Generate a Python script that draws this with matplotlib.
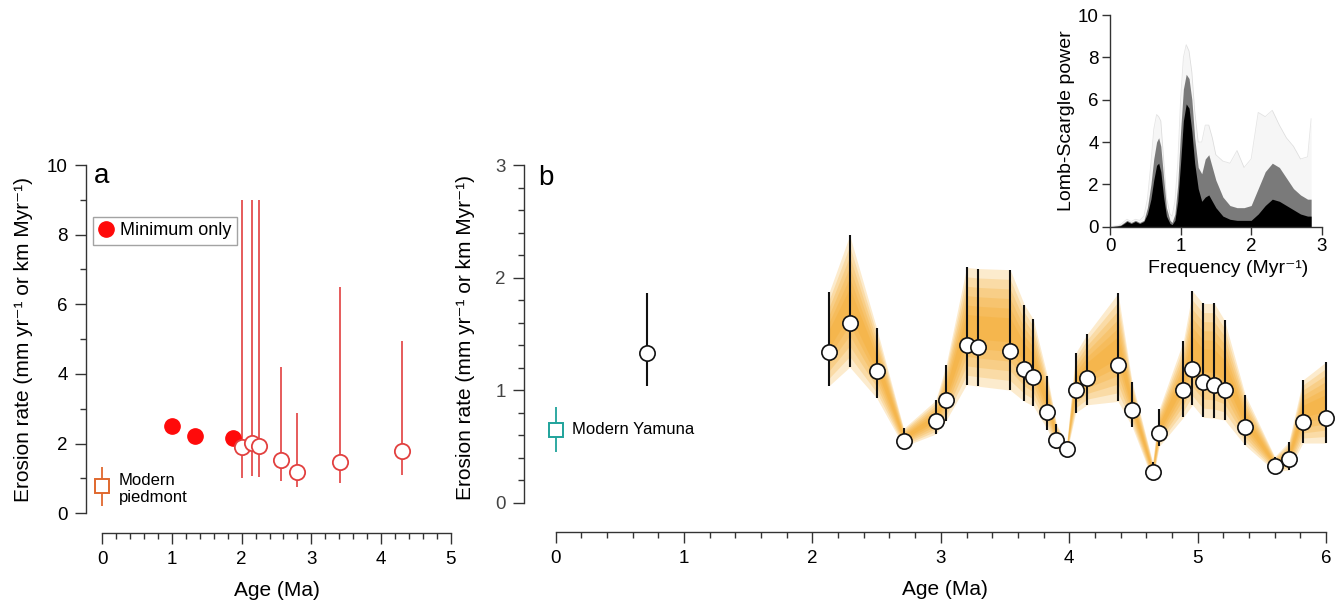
import matplotlib
matplotlib.use("Agg")
import matplotlib.pyplot as plt
from matplotlib.ticker import MultipleLocator
from matplotlib.lines import Line2D

plt.rcParams['font.family'] = ['Liberation Sans', 'DejaVu Sans']
plt.rcParams['mathtext.default'] = 'regular'

# --- panel a: piedmont erosion rates ---
min_age = [1.00, 1.33, 1.87]
min_rate = [2.50, 2.23, 2.16]

pied_age = [2.01, 2.15, 2.25, 2.56, 2.80, 3.41, 4.30]
pied_rate = [1.91, 2.01, 1.94, 1.53, 1.19, 1.48, 1.79]
pied_hi = [9.00, 9.00, 9.00, 4.19, 2.87, 6.51, 4.96]
pied_lo = [1.02, 1.07, 1.03, 0.93, 0.76, 0.86, 1.10]

modern_pied = 0.78
modern_pied_hi = 1.34
modern_pied_lo = 0.21

# --- panel b: Yamuna erosion rates ---
yam_age = [0.71, 2.13, 2.29, 2.50, 2.71, 2.96, 3.04, 3.20, 3.29, 3.54, 3.65,
           3.72, 3.83, 3.90, 3.98, 4.05, 4.14, 4.38, 4.49, 4.65, 4.70, 4.89,
           4.96, 5.04, 5.13, 5.21, 5.37, 5.60, 5.71, 5.82, 6.00]
yam_rate = [1.33, 1.34, 1.60, 1.17, 0.55, 0.73, 0.91, 1.40, 1.385, 1.35, 1.19,
            1.12, 0.81, 0.56, 0.48, 1.00, 1.105, 1.22, 0.82, 0.27, 0.62, 1.00,
            1.19, 1.07, 1.05, 1.00, 0.67, 0.33, 0.385, 0.72, 0.75]
yam_hi = [1.86, 1.87, 2.375, 1.55, 0.66, 0.91, 1.22, 2.09, 2.08, 2.07, 1.76,
          1.63, 1.125, 0.70, 0.52, 1.33, 1.50, 1.86, 1.07, 0.36, 0.83, 1.44,
          1.88, 1.77, 1.77, 1.62, 0.96, 0.41, 0.54, 1.09, 1.25]
yam_lo = [1.04, 1.04, 1.205, 0.93, 0.50, 0.61, 0.73, 1.05, 1.035, 1.00, 0.90,
          0.86, 0.65, 0.48, 0.44, 0.80, 0.87, 0.90, 0.675, 0.20, 0.50, 0.76,
          0.87, 0.76, 0.75, 0.735, 0.51, 0.28, 0.29, 0.53, 0.53]
mc_start = 1  # Monte Carlo envelope starts at the 2.13 Ma sample

modern_yam = 0.65
modern_yam_hi = 0.85
modern_yam_lo = 0.45

# --- inset: Lomb-Scargle periodograms (envelopes of the realisations) ---
freq = [0.0, 0.1, 0.15, 0.2, 0.24, 0.3, 0.36, 0.42, 0.48, 0.53, 0.58, 0.62,
        0.66, 0.69, 0.72, 0.76, 0.8, 0.85, 0.88, 0.92, 0.96, 1.0, 1.04, 1.08,
        1.12, 1.16, 1.2, 1.25, 1.3, 1.35, 1.4, 1.45, 1.5, 1.6, 1.7, 1.8, 1.9,
        2.0, 2.1, 2.2, 2.3, 2.4, 2.5, 2.6, 2.7, 2.8, 2.85]
pow_core = [0, 0.02, 0.05, 0.15, 0.25, 0.15, 0.25, 0.15, 0.25, 0.6, 1.3, 2.2,
            2.9, 3.0, 2.6, 1.4, 0.5, 0.15, 0.1, 0.3, 1.2, 3.0, 5.0, 5.8,
            5.6, 4.5, 3.0, 1.8, 1.2, 1.4, 1.5, 1.2, 0.9, 0.5, 0.35, 0.3, 0.3,
            0.3, 0.6, 1.0, 1.3, 1.2, 1.0, 0.8, 0.6, 0.5, 0.5]
pow_mid = [0, 0.05, 0.08, 0.2, 0.3, 0.2, 0.3, 0.2, 0.3, 0.9, 2.0, 3.2,
           4.0, 4.2, 3.8, 2.3, 0.9, 0.3, 0.2, 0.6, 2.0, 4.5, 6.5, 7.2,
           7.0, 6.0, 4.2, 2.8, 2.5, 3.2, 3.4, 2.8, 2.2, 1.4, 1.0, 0.9, 0.9,
           1.0, 1.8, 2.6, 3.0, 2.8, 2.3, 1.8, 1.5, 1.3, 1.3]
pow_max = [0, 0.05, 0.1, 0.25, 0.35, 0.25, 0.35, 0.3, 0.5, 1.3, 3.0, 4.6,
           5.3, 5.2, 5.0, 3.2, 1.4, 0.6, 0.5, 1.2, 3.0, 6.0, 8.0, 8.6,
           8.3, 7.3, 5.5, 4.0, 4.0, 4.8, 4.8, 4.2, 3.4, 3.1, 3.0, 3.6, 2.8,
           3.2, 5.4, 5.2, 5.5, 4.8, 4.2, 3.8, 3.2, 3.3, 5.1]

RED = '#ff0a0a'
RED_LINE = '#e2403f'
PIED_COL = '#e0682e'
YAM_COL = '#1fa39b'
ORANGE = '#f4a41c'
AX_COL = '#333333'
RATE_LABEL = 'Erosion rate (mm yr\u207b\u00b9 or km Myr\u207b\u00b9)'

W, H = 1338, 603
fig = plt.figure(figsize=(W / 100, H / 100), dpi=100)


def style_axis(ax, left_off, bottom_off):
    ax.spines[['top', 'right']].set_visible(False)
    ax.spines['left'].set_position(('outward', left_off))
    ax.spines['bottom'].set_position(('outward', bottom_off))
    for s in ('left', 'bottom'):
        ax.spines[s].set_color(AX_COL)
        ax.spines[s].set_linewidth(1.0)
    ax.tick_params(which='both', direction='out', color=AX_COL, width=1.0,
                   labelsize=13.5)
    ax.tick_params(which='major', length=8)
    ax.tick_params(which='minor', length=4)
    ax.patch.set_alpha(0)


# panel a
axa = fig.add_axes([102.3 / W, 1 - 513.3 / H, 348.4 / W, 348.3 / H])
style_axis(axa, 12, 14)
axa.set_xlim(0, 5)
axa.set_ylim(0, 10)
axa.xaxis.set_major_locator(MultipleLocator(1))
axa.xaxis.set_minor_locator(MultipleLocator(0.2))
axa.yaxis.set_major_locator(MultipleLocator(2))
axa.yaxis.set_minor_locator(MultipleLocator(1))
axa.tick_params(axis='x', pad=5)
axa.tick_params(axis='y', pad=5)

axa.vlines(pied_age, pied_lo, pied_hi, color=RED_LINE, lw=1.2, zorder=2)
axa.plot(min_age, min_rate, 'o', ms=11, color=RED, mec=RED, zorder=3)
axa.plot(pied_age, pied_rate, 'o', ms=11, mfc='white', mec=RED_LINE,
         mew=1.3, zorder=4)
axa.vlines([0], [modern_pied_lo], [modern_pied_hi], color=PIED_COL, lw=1.3,
           zorder=2, clip_on=False)
axa.plot([0], [modern_pied], 's', ms=10, mfc='white', mec=PIED_COL, mew=1.4,
         zorder=3, clip_on=False)
axa.text(0.24, 1.15, 'Modern\npiedmont', fontsize=12, va='top', ha='left',
         linespacing=1.15)

handle = Line2D([], [], marker='o', ls='none', ms=11, color=RED)
leg = axa.legend([handle], ['Minimum only'], loc='upper left',
                 bbox_to_anchor=(-0.027, 0.851), fontsize=13,
                 fancybox=False, frameon=True, borderpad=0.3,
                 handlelength=0.8, handletextpad=0.4, borderaxespad=0)
leg.get_frame().set_edgecolor('#8c8c8c')
leg.get_frame().set_linewidth(1.0)

axa.set_xlabel('Age (Ma)', fontsize=15)
axa.set_ylabel(RATE_LABEL, fontsize=15)
axa.xaxis.set_label_coords(0.5, -0.195)
axa.yaxis.set_label_coords(-0.2, 0.5)
axa.text(-0.023, 0.947, 'a', transform=axa.transAxes, fontsize=20,
         va='baseline', ha='left')

# panel b
axb = fig.add_axes([555.7 / W, 1 - 502.7 / H, 770.3 / W, 337.7 / H])
style_axis(axb, 23, 21)
axb.set_xlim(0, 6)
axb.set_ylim(0, 3)
axb.xaxis.set_major_locator(MultipleLocator(1))
axb.xaxis.set_minor_locator(MultipleLocator(0.2))
axb.yaxis.set_major_locator(MultipleLocator(1))
axb.yaxis.set_minor_locator(MultipleLocator(0.2))
axb.tick_params(axis='x', pad=5)
axb.tick_params(axis='y', pad=5, labelcolor='#444444')

# envelope of the Monte Carlo age-rate realisations, shaded denser
# towards the middle of each error range
xs = yam_age[mc_start:]
lo = yam_lo[mc_start:]
hi = yam_hi[mc_start:]
for f in (0.0, 0.08, 0.16, 0.24, 0.32, 0.40):
    b_lo = [l + f * (h - l) for l, h in zip(lo, hi)]
    b_hi = [h - f * (h - l) for l, h in zip(lo, hi)]
    axb.fill_between(xs, b_lo, b_hi, color=ORANGE, alpha=0.22, lw=0,
                     zorder=1)

axb.vlines(yam_age, yam_lo, yam_hi, color='#111111', lw=1.5, zorder=2,
           clip_on=False)
axb.plot(yam_age, yam_rate, 'o', ms=11, mfc='white', mec='#111111', mew=1.2,
         zorder=3, clip_on=False)
axb.vlines([0], [modern_yam_lo], [modern_yam_hi], color=YAM_COL, lw=1.3,
           zorder=2, clip_on=False)
axb.plot([0], [modern_yam], 's', ms=10, mfc='white', mec=YAM_COL, mew=1.4,
         zorder=3, clip_on=False)
axb.text(0.13, modern_yam, 'Modern Yamuna', fontsize=12, va='center',
         ha='left')

axb.set_xlabel('Age (Ma)', fontsize=15)
axb.set_ylabel(RATE_LABEL, fontsize=15)
axb.xaxis.set_label_coords(0.505, -0.23)
axb.yaxis.set_label_coords(-0.105, 0.49)
axb.text(-0.0226, 0.941, 'b', transform=axb.transAxes, fontsize=20,
         va='baseline', ha='left')

# inset periodogram
axi = fig.add_axes([1110 / W, 1 - 226.7 / H, 211.7 / W, 211.7 / H])
axi.spines[['top', 'right']].set_visible(False)
for s in ('left', 'bottom'):
    axi.spines[s].set_color(AX_COL)
    axi.spines[s].set_linewidth(1.0)
axi.set_xlim(0, 3)
axi.set_ylim(0, 10)
axi.xaxis.set_major_locator(MultipleLocator(1))
axi.yaxis.set_major_locator(MultipleLocator(2))
axi.tick_params(direction='out', length=6, width=1.0, color=AX_COL,
                labelsize=13.5, pad=2)
axi.fill_between(freq, 0, pow_max, color='black', alpha=0.035, lw=0)
axi.plot(freq, pow_max, color='black', alpha=0.1, lw=0.6)
axi.fill_between(freq, 0, pow_mid, color='black', alpha=0.5, lw=0)
axi.fill_between(freq, 0, pow_core, color='black', alpha=1.0, lw=0)
axi.set_xlabel('Frequency (Myr\u207b\u00b9)', fontsize=14)
axi.set_ylabel('Lomb-Scargle power', fontsize=14)
axi.xaxis.set_label_coords(0.557, -0.155)
axi.yaxis.set_label_coords(-0.165, 0.5)
axi.patch.set_alpha(0)

fig.savefig('out.png', dpi=100)
